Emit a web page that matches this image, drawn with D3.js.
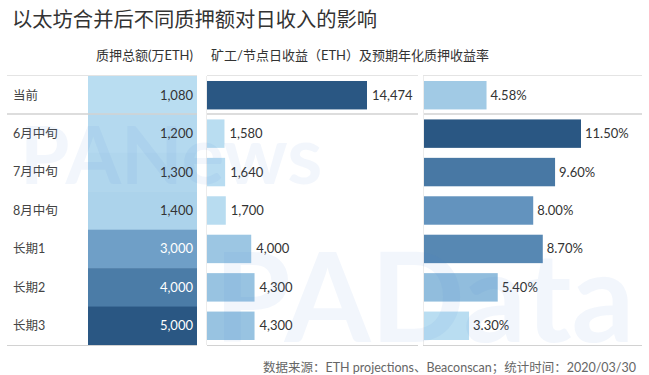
<!DOCTYPE html>
<html>
<head>
<meta charset="utf-8">
<script src="https://cdn.jsdelivr.net/npm/d3@7"></script>
<style>
  body { margin: 0; background: #fff; }
  svg text { font-family: "Lato", "Noto Sans CJK SC", sans-serif; }
</style>
</head>
<body>
<div id="chart"></div>
<script>
// Data
const rows = ["当前", "6月中旬", "7月中旬", "8月中旬", "长期1", "长期2", "长期3"];
const staked = [1080, 1200, 1300, 1400, 3000, 4000, 5000]; // 万ETH
const daily = [14474, 1580, 1640, 1700, 4000, 4300, 4300]; // ETH
const apr = [4.58, 11.5, 9.6, 8.0, 8.7, 5.4, 3.3]; // %

var width = 649,
	height = 375;
var tableTop = 76,
	tableBottom = 345;

var svg = d3
	.select("#chart")
	.append("svg")
	.attr("width", width)
	.attr("height", height);

// Watermarks (faint, behind)
var wm = svg.append("g").attr("pointer-events", "none");

// Title
svg
	.append("text")
	.attr("x", 12)
	.attr("y", 27)
	.attr("font-size", 20.3)
	.attr("fill", "#333")
	.text("以太坊合并后不同质押额对日收入的影响");

// Panels
var p1 = { x0: 7, x1: 197, cell: 88 },
	p2 = { x0: 207, x1: 418 },
	p3 = { x0: 423, x1: 642 };

const y = d3.scaleBand().domain(rows).range([tableTop, tableBottom]).padding(0);

// one colour ramp, each panel on its own domain
const ramp = d3.interpolateRgbBasis(["#b9ddf1", "#6b9fcc", "#2a5783"]);
const c1 = d3.scaleSequential(ramp).domain(d3.extent(staked));
const c2 = d3.scaleSequential(ramp).domain(d3.extent(daily));
const c3 = d3.scaleSequential(ramp).domain(d3.extent(apr));

// Headers
svg
	.append("text")
	.attr("x", 193)
	.attr("y", 60)
	.attr("text-anchor", "end")
	.attr("font-size", 13)
	.attr("fill", "#333")
	.text("质押总额(万ETH)");
svg
	.append("text")
	.attr("x", 211)
	.attr("y", 60)
	.attr("font-size", 13)
	.attr("fill", "#333")
	.text("矿工/节点日收益（ETH）及预期年化质押收益率");

// Panel 1: labels + heat column
svg
	.append("g")
	.selectAll("rect")
	.data(rows)
	.join("rect")
	.attr("x", p1.cell)
	.attr("y", (d) => y(d))
	.attr("width", p1.x1 - p1.cell)
	.attr("height", y.bandwidth() + 0.5)
	.attr("fill", (d, i) => c1(staked[i]));

svg
	.append("g")
	.selectAll("text")
	.data(rows)
	.join("text")
	.attr("x", 13)
	.attr("y", (d) => y(d) + y.bandwidth() / 2)
	.attr("dy", "0.35em")
	.attr("font-size", 12.5)
	.attr("fill", "#444")
	.text((d) => d);

svg
	.append("g")
	.selectAll("text")
	.data(rows)
	.join("text")
	.attr("x", p1.x1 - 4)
	.attr("y", (d) => y(d) + y.bandwidth() / 2)
	.attr("dy", "0.35em")
	.attr("text-anchor", "end")
	.attr("font-size", 13)
	.attr("fill", (d, i) => (staked[i] >= 3000 ? "#fff" : "#333"))
	.text((d, i) => d3.format(",")(staked[i]));

// Panel 2: daily income bars
const x2 = d3.scaleLinear().domain([0, d3.max(daily)]).range([0, 160]);
const barH = y.bandwidth() * 0.74;

svg
	.append("g")
	.selectAll("rect")
	.data(rows)
	.join("rect")
	.attr("x", p2.x0)
	.attr("y", (d) => y(d) + (y.bandwidth() - barH) / 2)
	.attr("width", (d, i) => x2(daily[i]))
	.attr("height", barH)
	.attr("fill", (d, i) => c2(daily[i]));

svg
	.append("g")
	.selectAll("text")
	.data(rows)
	.join("text")
	.attr("x", (d, i) => p2.x0 + x2(daily[i]) + 5)
	.attr("y", (d) => y(d) + y.bandwidth() / 2)
	.attr("dy", "0.35em")
	.attr("font-size", 13)
	.attr("fill", "#333")
	.text((d, i) => d3.format(",")(daily[i]));

// Panel 3: APR bars
const x3 = d3.scaleLinear().domain([0, d3.max(apr)]).range([0, 157]);

svg
	.append("g")
	.selectAll("rect")
	.data(rows)
	.join("rect")
	.attr("x", p3.x0 + 1)
	.attr("y", (d) => y(d) + (y.bandwidth() - barH) / 2)
	.attr("width", (d, i) => x3(apr[i]))
	.attr("height", barH)
	.attr("fill", (d, i) => c3(apr[i]));

svg
	.append("g")
	.selectAll("text")
	.data(rows)
	.join("text")
	.attr("x", (d, i) => p3.x0 + 1 + x3(apr[i]) + 4)
	.attr("y", (d) => y(d) + y.bandwidth() / 2)
	.attr("dy", "0.35em")
	.attr("font-size", 13)
	.attr("fill", "#333")
	.text((d, i) => apr[i].toFixed(2) + "%");

// Rules
var panels = [p1, p2, p3];
var rules = svg.append("g");
panels.forEach(function (p) {
	rules
		.append("line")
		.attr("x1", p.x0).attr("x2", p.x1)
		.attr("y1", tableTop - 0.5).attr("y2", tableTop - 0.5)
		.attr("stroke", "#e4e4e4");
	rules
		.append("line")
		.attr("x1", p.x0).attr("x2", p.x1)
		.attr("y1", y(rows[1]) - 0.5).attr("y2", y(rows[1]) - 0.5)
		.attr("stroke", "#d2d2d2")
		.attr("stroke-width", 1.5);
	rules
		.append("line")
		.attr("x1", p.x0).attr("x2", p.x1)
		.attr("y1", tableBottom + 0.5).attr("y2", tableBottom + 0.5)
		.attr("stroke", "#d2d2d2");
});
[p2.x0 - 1, p3.x0].forEach(function (vx) {
	rules
		.append("line")
		.attr("x1", vx + 0.5).attr("x2", vx + 0.5)
		.attr("y1", tableTop).attr("y2", tableBottom)
		.attr("stroke", "#ececec");
});

// Watermark text drawn on top, very faint
wm.raise();
wm.append("text")
	.attr("x", 20)
	.attr("y", 184)
	.attr("font-size", 80)
	.attr("font-weight", "bold")
	.attr("fill", "#4a7fd0")
	.attr("fill-opacity", 0.07)
	.text("PANews");
wm.append("text")
	.attr("x", 214)
	.attr("y", 342)
	.attr("font-size", 124)
	.attr("font-weight", "bold")
	.attr("fill", "#4a7fd0")
	.attr("fill-opacity", 0.07)
	.text("PAData");

// Footer
svg
	.append("text")
	.attr("x", 636)
	.attr("y", 372)
	.attr("text-anchor", "end")
	.attr("font-size", 12.5)
	.attr("fill", "#666")
	.text("数据来源：ETH projections、Beaconscan；统计时间：2020/03/30");
</script>
</body>
</html>
